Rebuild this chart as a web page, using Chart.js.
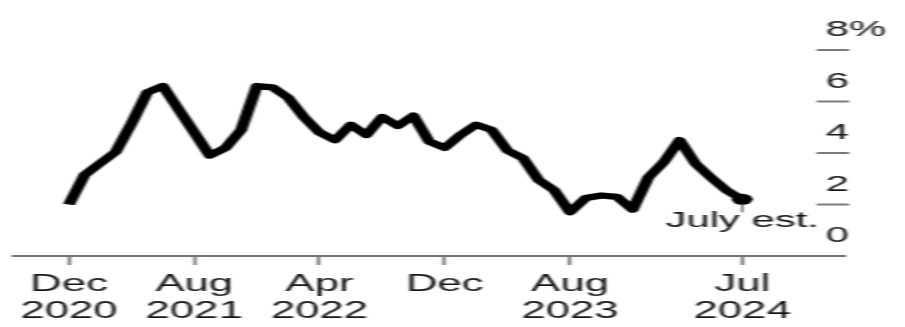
<!DOCTYPE html>
<html>
<head>
<meta charset="utf-8">
<script src="https://cdn.jsdelivr.net/npm/chart.js@4.4.1/dist/chart.umd.min.js"></script>
<style>
  html, body { margin: 0; padding: 0; background: #fff; overflow: hidden; }
  #wrap { width: 905px; height: 327px; overflow: hidden; }
  /* the chart is drawn narrow and widened horizontally */
  #chart { display: block; transform: scaleX(1.9013); transform-origin: 0 0; filter: blur(0.45px); }
</style>
</head>
<body>
<div id="wrap"><canvas id="chart" width="476" height="327"></canvas></div>
<script>
// Monthly inflation rate, Dec 2020 – Jul 2024 (last month is an estimate)
const months = [
  "Dec 2020",
  "Jan 2021", "Feb 2021", "Mar 2021", "Apr 2021", "May 2021", "Jun 2021",
  "Jul 2021", "Aug 2021", "Sep 2021", "Oct 2021", "Nov 2021", "Dec 2021",
  "Jan 2022", "Feb 2022", "Mar 2022", "Apr 2022", "May 2022", "Jun 2022",
  "Jul 2022", "Aug 2022", "Sep 2022", "Oct 2022", "Nov 2022", "Dec 2022",
  "Jan 2023", "Feb 2023", "Mar 2023", "Apr 2023", "May 2023", "Jun 2023",
  "Jul 2023", "Aug 2023", "Sep 2023", "Oct 2023", "Nov 2023", "Dec 2023",
  "Jan 2024", "Feb 2024", "Mar 2024", "Apr 2024", "May 2024", "Jun 2024",
  "Jul 2024"
];
const rates = [
  2.0,
  3.15, 3.6, 4.05, 5.15, 6.35, 6.6,
  5.7, 4.8, 3.9, 4.2, 4.9, 6.6,
  6.55, 6.15, 5.4, 4.8, 4.5, 5.1,
  4.7, 5.4, 5.05, 5.45, 4.45, 4.2,
  4.7, 5.1, 4.9, 4.1, 3.8, 2.95,
  2.55, 1.7, 2.25, 2.35, 2.3, 1.8,
  3.05, 3.65, 4.5, 3.6, 3.05, 2.55,
  2.2
];
const tickMonths = ["Dec 2020", "Aug 2021", "Apr 2022", "Dec 2022", "Aug 2023", "Jul 2024"];
const tickLabels = [["Dec", "2020"], ["Aug", "2021"], ["Apr", "2022"], ["Dec"], ["Aug", "2023"], ["Jul", "2024"]];
const yTicks = [0, 2, 4, 6, 8];
const yTickSuffix = ["", "", "", "", "%"];
const noteText = "July est.";

const FONT = "'Liberation Sans', Arial, Helvetica, sans-serif";
const points = rates.map((v, i) => ({ x: i, y: v }));
const lastIdx = rates.length - 1;

// right-hand value labels with short rules under each
const rightAxis = {
  id: 'rightAxis',
  afterDraw(chart) {
    const { ctx, scales: { y } } = chart;
    const x0 = 429.5, x1 = 446.6;
    ctx.save();
    ctx.strokeStyle = '#7a7a7a';
    ctx.lineWidth = 2;
    yTicks.forEach((v, i) => {
      const py = y.getPixelForValue(v);
      if (v !== 0) {
        ctx.beginPath();
        ctx.moveTo(x0, py);
        ctx.lineTo(x1, py);
        ctx.stroke();
      }
      ctx.font = `22px ${FONT}`;
      ctx.fillStyle = '#151515';
      ctx.textBaseline = 'alphabetic';
      ctx.textAlign = 'right';
      ctx.fillText(String(v), x1, py - 14);
      if (yTickSuffix[i]) {
        ctx.textAlign = 'left';
        ctx.fillText(yTickSuffix[i], x1, py - 14);
      }
    });
    ctx.restore();
  }
};

// note under the latest point
const lastNote = {
  id: 'lastNote',
  afterDatasetsDraw(chart) {
    const { ctx } = chart;
    const pt = chart.getDatasetMeta(0).data[lastIdx];
    ctx.save();
    ctx.strokeStyle = '#333';
    ctx.lineWidth = 0.9;
    ctx.beginPath();
    ctx.moveTo(pt.x, pt.y + 4);
    ctx.lineTo(pt.x, pt.y + 13);
    ctx.stroke();
    ctx.font = `22px ${FONT}`;
    ctx.fillStyle = '#151515';
    ctx.textAlign = 'center';
    ctx.textBaseline = 'alphabetic';
    ctx.fillText(noteText, pt.x, pt.y + 28);
    ctx.restore();
  }
};

new Chart(document.getElementById('chart'), {
  type: 'line',
  data: {
    datasets: [{
      data: points,
      borderColor: '#000',
      backgroundColor: '#000',
      borderWidth: 6.3,
      borderJoinStyle: 'round',
      borderCapStyle: 'butt',
      tension: 0,
      pointRadius: rates.map((_, i) => (i === lastIdx ? 5.5 : 0)),
      pointBorderWidth: 0,
      pointBackgroundColor: '#000',
      clip: false
    }]
  },
  options: {
    responsive: false,
    devicePixelRatio: 1,
    animation: false,
    events: [],
    layout: { padding: { left: 7.4, right: 31.3, top: 50, bottom: 0 } },
    plugins: { legend: { display: false }, tooltip: { enabled: false } },
    scales: {
      x: {
        type: 'linear',
        position: 'bottom',
        min: -3.5,
        max: 49.6,
        afterFit(scale) { scale.height = 71; },
        afterBuildTicks(scale) {
          scale.ticks = tickMonths.map(m => ({ value: months.indexOf(m) }));
        },
        border: { display: true, color: '#767676', width: 2 },
        grid: { drawOnChartArea: false, drawTicks: true, tickLength: 9, tickColor: '#6a6a6a', tickWidth: 1.6 },
        ticks: {
          autoSkip: false,
          maxRotation: 0,
          padding: 6,
          color: '#151515',
          font: { family: FONT, size: 23, lineHeight: 1.18 },
          callback(value) {
            const k = tickMonths.findIndex(m => months.indexOf(m) === value);
            return k >= 0 ? tickLabels[k] : '';
          }
        }
      },
      y: {
        display: false,
        min: 0,
        max: 8
      }
    }
  },
  plugins: [rightAxis, lastNote]
});
</script>
</body>
</html>
